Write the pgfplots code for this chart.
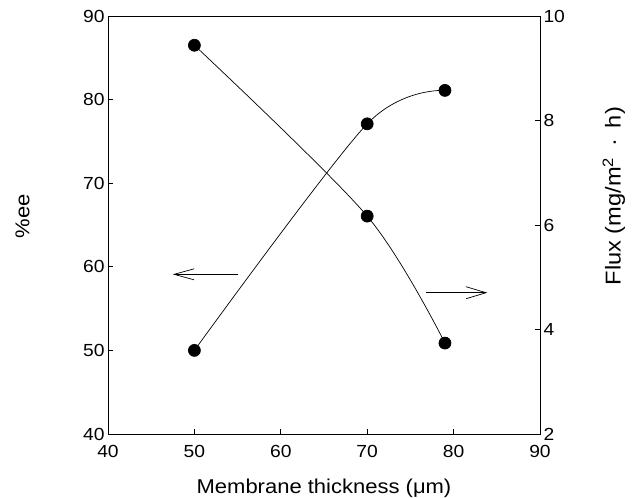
\documentclass[border=0pt]{standalone}
\usepackage{fontspec}
\setmainfont{Liberation Sans}[FakeStretch=1.1]
\usepackage{pgfplots}
\pgfplotsset{compat=1.18}
\usetikzlibrary{arrows.meta}

\begin{document}
\begin{tikzpicture}
\pgfplotsset{
  every axis/.append style={
    width=432pt, height=418pt, scale only axis,
    at={(0,0)}, anchor=south west,
    xmin=40, xmax=90,
    major tick length=5pt,
    axis line style={line width=0.7pt},
    tick style={line width=0.7pt, black},
    /pgf/number format/assume math mode=true,
    tick label style={font=\fontsize{17.5}{20}\selectfont},
    label style={font=\fontsize{20}{24}\selectfont},
  }
}
% %ee against thickness (left axis)
\begin{axis}[
  ymin=40, ymax=90,
  xtick={40,50,...,90}, ytick={40,50,...,90},
  xtick pos=bottom, ytick pos=left,
  tick align=inside,
  xticklabel style={yshift=-8pt},
  xlabel={Membrane thickness (μm)},
  ylabel={\%ee},
  xlabel style={at={(axis description cs:0.5,0)}, anchor=center, yshift=-54pt},
  ylabel style={at={(axis description cs:-0.198,0.521)}, anchor=center},
]
\addplot[black, line width=0.7pt, smooth, mark=*, mark size=6pt, mark options={fill=black}]
  coordinates {(50,50) (70,77.1) (79,81.1)};
\draw[line width=0.7pt, -{Straight Barb[length=20pt,width=11pt]}]
  (axis cs:55.1,59.1) -- (axis cs:47.5,59.1);
\draw[line width=0.7pt, -{Straight Barb[length=20pt,width=12pt]}]
  (axis cs:76.8,56.9) -- (axis cs:83.9,56.9);
\end{axis}
% flux against thickness (right axis)
\begin{axis}[
  ymin=2, ymax=10, ytick={2,4,...,10},
  axis x line=none,
  axis y line*=right,
  tick align=inside,
  ylabel={Flux (mg/m\textsuperscript{2}\hspace{0.5em}·\hspace{0.5em}h)},
  ylabel style={at={(axis description cs:1.171,0.569)}, anchor=center,
    font=\fontsize{21.5}{24}\selectfont},
]
\addplot[black, line width=0.7pt, smooth, mark=*, mark size=6pt, mark options={fill=black}]
  coordinates {(50,9.44) (70,6.17) (79,3.74)};
\end{axis}
\pgfresetboundingbox
\path (-108pt,-64pt) rectangle (532pt,434pt);
\end{tikzpicture}
\end{document}
